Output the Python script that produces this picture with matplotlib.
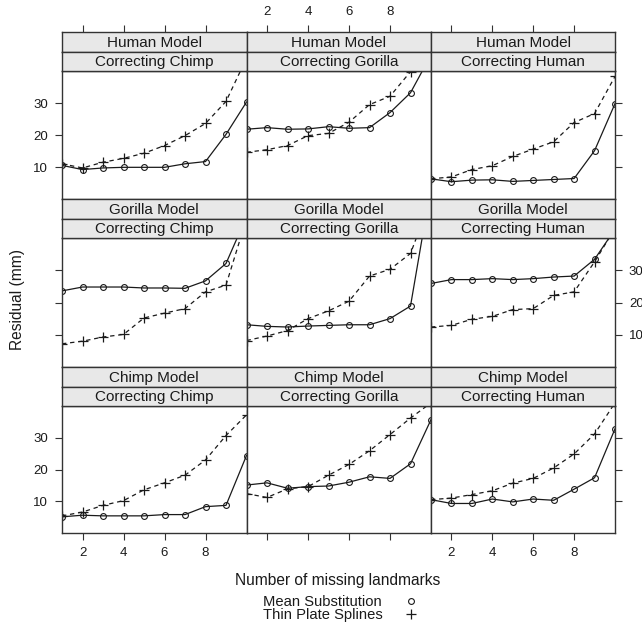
import numpy as np
import matplotlib
matplotlib.use("Agg")
import matplotlib.pyplot as plt
from matplotlib.lines import Line2D

plt.rcParams['font.family'] = ['Liberation Sans', 'DejaVu Sans']

# Number of missing landmarks
landmarks = np.arange(1, 11)

models = ["Human Model", "Gorilla Model", "Chimp Model"]
targets = ["Correcting Chimp", "Correcting Gorilla", "Correcting Human"]

# Residual (mm): mean substitution vs thin plate splines
human_chimp_ms = [10.5, 9.2, 9.7, 9.9, 9.9, 9.9, 11.0, 11.7, 20.2, 30.3]
human_chimp_tps = [11.0, 9.7, 11.5, 12.7, 14.3, 16.7, 19.8, 23.6, 30.5, 44.0]
human_gorilla_ms = [21.8, 22.3, 21.8, 21.9, 22.6, 22.1, 22.3, 27.0, 33.2, 45.0]
human_gorilla_tps = [14.6, 15.4, 16.7, 19.8, 20.5, 24.0, 29.5, 32.1, 39.8, 48.0]
human_human_ms = [6.3, 5.4, 5.9, 6.0, 5.5, 5.8, 6.1, 6.4, 15.1, 29.8]
human_human_tps = [6.3, 6.9, 9.2, 10.4, 13.3, 15.6, 17.9, 23.9, 26.7, 38.3]

gorilla_chimp_ms = [23.6, 24.8, 24.8, 24.8, 24.5, 24.5, 24.4, 26.7, 32.1, 46.6]
gorilla_chimp_tps = [7.2, 8.0, 9.3, 10.1, 15.2, 16.7, 18.1, 23.3, 25.4, 46.0]
gorilla_gorilla_ms = [13.1, 12.6, 12.4, 12.7, 12.9, 13.1, 13.1, 15.0, 18.9, 56.0]
gorilla_gorilla_tps = [8.2, 9.6, 11.3, 15.0, 17.4, 20.4, 28.2, 30.3, 35.2, 52.0]
gorilla_human_ms = [25.9, 27.1, 27.1, 27.4, 27.1, 27.4, 27.9, 28.2, 33.4, 42.7]
gorilla_human_tps = [12.4, 12.9, 14.8, 15.7, 17.8, 18.1, 22.2, 23.3, 32.6, 43.0]

chimp_chimp_ms = [5.1, 5.6, 5.4, 5.4, 5.4, 5.8, 5.8, 8.3, 8.7, 24.4]
chimp_chimp_tps = [5.4, 6.6, 8.7, 10.2, 13.6, 15.8, 18.2, 23.0, 30.7, 37.2]
chimp_gorilla_ms = [15.1, 15.8, 14.1, 14.6, 14.8, 16.0, 17.7, 17.2, 21.8, 35.7]
chimp_gorilla_tps = [12.4, 11.2, 13.9, 14.6, 18.2, 21.6, 25.9, 31.0, 36.2, 41.0]
chimp_human_ms = [10.5, 9.3, 9.3, 10.7, 9.8, 10.7, 10.3, 13.8, 17.4, 32.8]
chimp_human_tps = [10.5, 11.0, 12.1, 13.3, 15.7, 17.2, 20.5, 24.9, 31.2, 41.0]

panels = [
    [(human_chimp_ms, human_chimp_tps), (human_gorilla_ms, human_gorilla_tps),
     (human_human_ms, human_human_tps)],
    [(gorilla_chimp_ms, gorilla_chimp_tps), (gorilla_gorilla_ms, gorilla_gorilla_tps),
     (gorilla_human_ms, gorilla_human_tps)],
    [(chimp_chimp_ms, chimp_chimp_tps), (chimp_gorilla_ms, chimp_gorilla_tps),
     (chimp_human_ms, chimp_human_tps)],
]

x_ticks = [2, 4, 6, 8]
y_ticks = [10, 20, 30]

W, H = 642, 625
fig = plt.figure(figsize=(W / 100, H / 100), dpi=100)


def rect(x0, y0, x1, y1):
    return [x0 / W, 1 - y1 / H, (x1 - x0) / W, (y1 - y0) / H]


col_edges = [62, 246.5, 431, 615]
row_tops = [32, 199, 367]
strip_h = 19.5
block_bottoms = [199, 367, 533]

frame_col = "#333333"
line_col = "#1a1a1a"
text_col = "#1a1a1a"
strip_bg = "#e8e8e8"
tick_fs = 9.5

for r in range(3):
    top = row_tops[r]
    plot_top = top + 2 * strip_h
    bottom = block_bottoms[r]
    for c in range(3):
        x0, x1 = col_edges[c], col_edges[c + 1]
        ax = fig.add_axes(rect(x0, plot_top, x1, bottom))
        ms, tps = panels[r][c]
        ax.plot(landmarks, ms, color=line_col, lw=0.9, marker='o', ms=4.2,
                mfc='none', mec=line_col, mew=0.8)
        ax.plot(landmarks, tps, color=line_col, lw=0.9, ls=(0, (3.5, 3)),
                marker='+', ms=7, mew=0.9)
        ax.set_xlim(1, 10)
        ax.set_ylim(0, 40)
        for s in ax.spines.values():
            s.set_color(frame_col)
            s.set_linewidth(1.0)

        # tick placement alternates between the outer sides
        left = c == 0
        right = c == 2
        bottomside = r == 2
        ax.tick_params(axis='both', direction='out', length=5, width=0.8,
                       colors=frame_col, labelcolor=text_col,
                       labelsize=tick_fs, pad=5,
                       left=left, right=right, top=False, bottom=bottomside,
                       labelleft=left and r != 1,
                       labelright=right and r == 1,
                       labeltop=False,
                       labelbottom=bottomside and c != 1)
        ax.set_xticks(x_ticks)
        ax.set_yticks(y_ticks)

        # two stacked strips with the model and the corrected species
        for k, label in enumerate([models[r], targets[c]]):
            sy0 = top + k * strip_h
            sax = fig.add_axes(rect(x0, sy0, x1, sy0 + strip_h))
            sax.set_facecolor(strip_bg)
            sax.set_xlim(1, 10)
            sax.set_yticks([])
            if r == 0 and k == 0:
                # top axis sits above the strips
                sax.set_xticks(x_ticks)
                sax.tick_params(axis='x', direction='out', length=5, width=0.8,
                                colors=frame_col, labelcolor=text_col,
                                labelsize=tick_fs, pad=5,
                                top=True, bottom=False,
                                labeltop=(c == 1), labelbottom=False)
            else:
                sax.set_xticks([])
            for s in sax.spines.values():
                s.set_color(frame_col)
                s.set_linewidth(1.0)
            sax.text(0.5, 0.45, label, ha='center', va='center',
                     fontsize=11, color=text_col, transform=sax.transAxes)

fig.text(18 / W, 1 - 300 / H, "Residual (mm)", rotation=90, ha='center',
         va='center', fontsize=11.2, color=text_col)
fig.text(338 / W, 1 - 580 / H, "Number of missing landmarks", ha='center',
         va='center', fontsize=11.2, color=text_col)

# key
fig.text(263 / W, 1 - 601.5 / H, "Mean Substitution", ha='left', va='center',
         fontsize=10.6, color=text_col)
fig.text(263 / W, 1 - 615 / H, "Thin Plate Splines", ha='left', va='center',
         fontsize=10.6, color=text_col)
fig.add_artist(Line2D([411 / W], [1 - 601 / H], marker='o', ms=4.2, mfc='none',
                      mec=line_col, mew=0.8, transform=fig.transFigure))
fig.add_artist(Line2D([411 / W], [1 - 614 / H], marker='+', ms=7, mew=0.9,
                      color=line_col, transform=fig.transFigure))

fig.savefig("out.png", dpi=100, facecolor="white")
